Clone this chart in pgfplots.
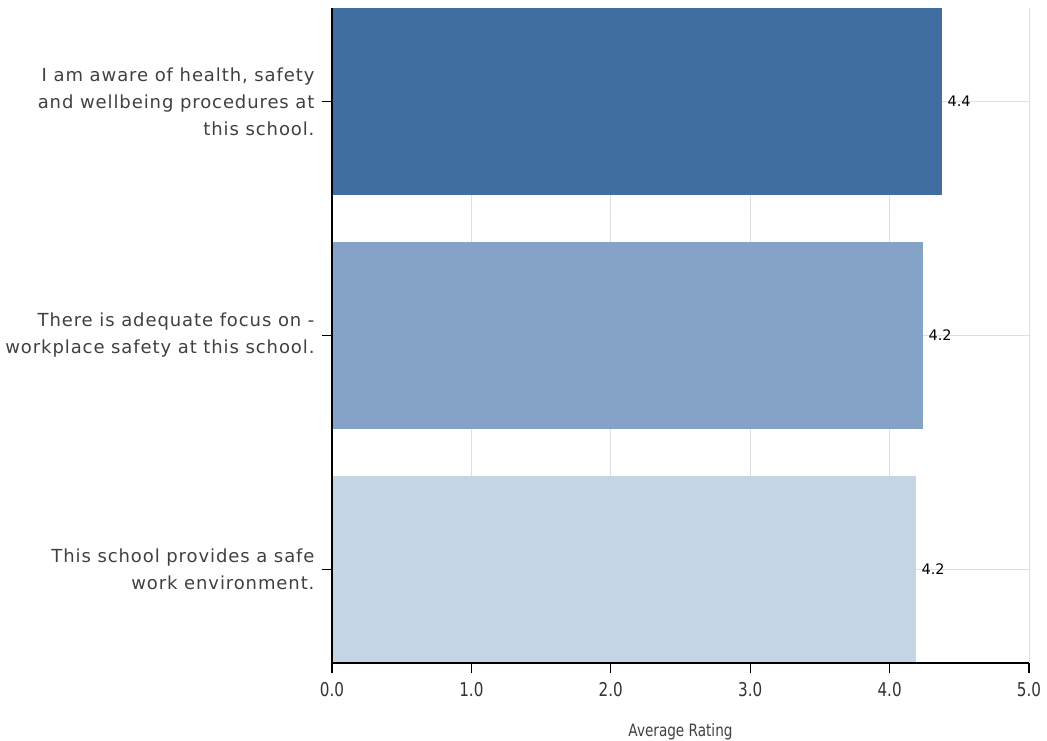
\documentclass[border=0pt]{standalone}
\usepackage{pgfplots}
\pgfplotsset{compat=1.18}
\usepackage{fontspec}
\setmainfont{DejaVu Sans}
\newfontfamily\labfont[LetterSpace=5]{DejaVu Sans}
\newfontfamily\condfont[FakeStretch=0.8]{DejaVu Sans}
\definecolor{barA}{RGB}{65,110,161}
\definecolor{barB}{RGB}{132,163,198}
\definecolor{barC}{RGB}{197,213,229}
\begin{document}
\begin{tikzpicture}
\useasboundingbox (-332pt,-77pt) rectangle (715pt,663pt);
\begin{axis}[
  anchor=south west, at={(0pt,0pt)},
  scale only axis, width=697pt, height=655pt,
  xbar, bar width=187pt, bar shift=0pt,
  xmin=0, xmax=5, ymin=-0.4, ymax=2.4,
  axis x line*=bottom, axis y line*=left,
  axis line style={black, line width=1.3pt},
  xtick={0,1,2,3,4,5},
  xticklabel={\pgfmathprintnumber[fixed,fixed zerofill,precision=1]{\tick}},
  ytick={0,1,2},
  yticklabels={{This school provides a safe\\work environment.},{There is adequate focus on -\\workplace safety at this school.},{I am aware of health, safety\\and wellbeing procedures at\\this school.}},
  major tick length=10pt, tick align=outside,
  tick style={black, line width=1.3pt},
  xmajorgrids, ymajorgrids, grid style={draw=gray!25, line width=1pt},
  yticklabel style={font=\labfont\fontsize{18}{27}\selectfont, align=right, text=black!75, xshift=-4pt},
  xticklabel style={font=\condfont\fontsize{19}{21}\selectfont, text=black!80, yshift=-6pt},
  xlabel={Average Rating}, xlabel style={font=\condfont\fontsize{17}{19}\selectfont, text=black!75, yshift=-20pt},
  nodes near coords, point meta=explicit symbolic,
  every node near coord/.append style={font=\fontsize{14.5}{16}\selectfont, anchor=west, xshift=2pt, text=black},
  /pgf/number format/assume math mode=true,
]
\addplot[fill=barA, draw=none] coordinates {(4.376,2) [4.4]};
\addplot[fill=barB, draw=none] coordinates {(4.24,1) [4.2]};
\addplot[fill=barC, draw=none] coordinates {(4.19,0) [4.2]};
\draw[black, line width=1.3pt] (rel axis cs:0,1) -- (rel axis cs:0,0) -- (rel axis cs:1,0);
\end{axis}
\end{tikzpicture}
\end{document}
